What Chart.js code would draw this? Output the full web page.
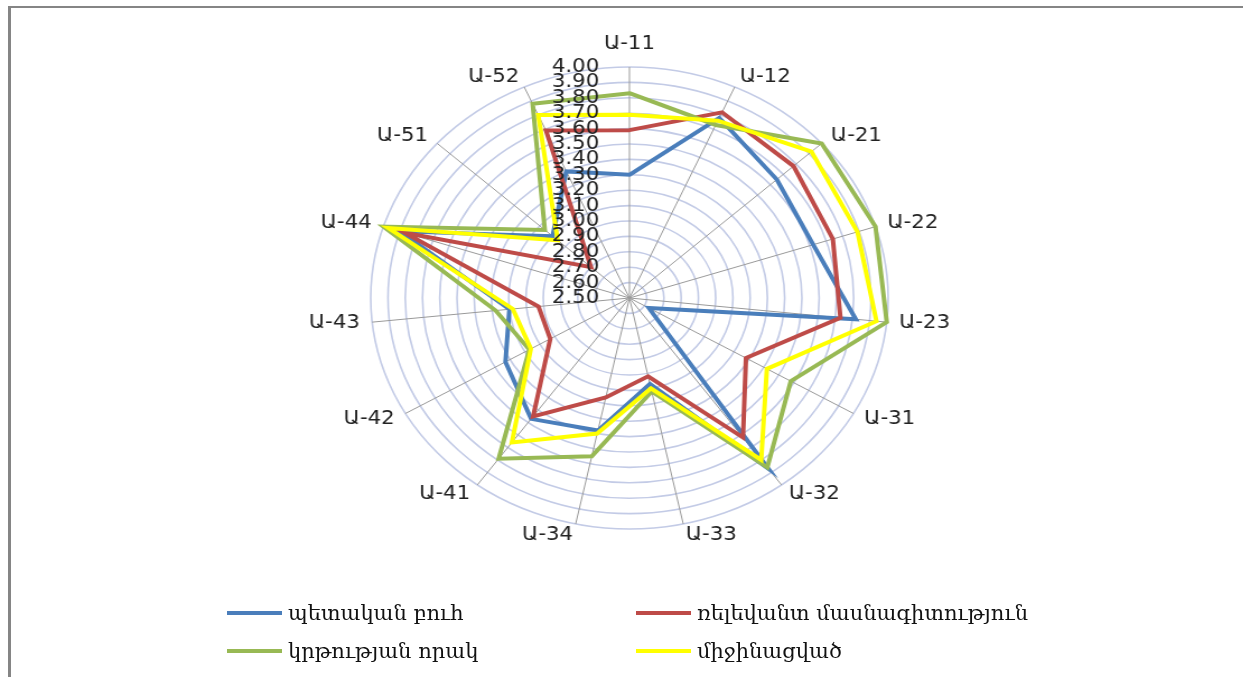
<!DOCTYPE html>
<html><head><meta charset="utf-8">
<script src="https://cdn.jsdelivr.net/npm/chart.js@4"></script>
<style>
html,body{margin:0;padding:0;background:#fff;width:1243px;height:677px;overflow:hidden;}
#frame{position:absolute;left:8px;top:6px;width:1240px;height:680px;border-top:2px solid #858585;border-left:3px solid #858585;}
#stretch{position:absolute;left:0;top:0;width:1110px;height:677px;transform:scaleX(1.12);transform-origin:0 0;}
#legend{position:absolute;left:0;top:0;width:1243px;height:677px;}
.li{position:absolute;display:flex;align-items:center;font-family:"DejaVu Serif";font-size:21px;color:#111;white-space:nowrap;transform:translateY(-50%);}
.sw{width:55px;height:4px;margin-right:6px;}
</style></head><body>
<div id="frame"></div>
<div id="stretch"><canvas id="c" width="1110" height="677"></canvas></div>
<div id="legend"></div>
<script>
const categories = ['Ա-11','Ա-12','Ա-21','Ա-22','Ա-23','Ա-31','Ա-32','Ա-33','Ա-34','Ա-41','Ա-42','Ա-43','Ա-44','Ա-51','Ա-52'];
const seriesNames = ['պետական բուհ','ռելեվանտ մասնագիտություն','կրթության որակ','միջինացված'];
const stateUni   = [3.30,3.78,3.65,3.62,3.82,2.63,3.87,3.07,3.38,3.47,3.33,3.20,3.90,3.10,3.40];
const relevSpec  = [3.59,3.82,3.78,3.74,3.73,3.28,3.62,3.02,3.16,3.45,3.03,3.03,3.87,2.80,3.69];
const eduQuality = [3.83,3.73,4.00,4.00,4.00,3.58,3.86,3.12,3.55,3.79,3.17,3.28,4.00,3.16,3.88];
const averaged   = [3.69,3.76,3.92,3.89,3.94,3.42,3.80,3.10,3.40,3.66,3.16,3.18,3.97,3.06,3.80];
const scaleMin = 2.5, scaleMax = 4.0, scaleStep = 0.1;

const colors = ['#4A7EBB','#BE4B48','#98B954','#FFFF00'];
const allSeries = [stateUni, relevSpec, eduQuality, averaged];

// Tick labels (left of the vertical axis, on top of the lines) and Excel-style point labels
const labelPlugin = {
  id: 'excelLabels',
  afterDatasetsDraw(chart) {
    const s = chart.scales.r, ctx = chart.ctx;
    ctx.save();
    ctx.font = '19px "DejaVu Sans"';
    ctx.fillStyle = '#222';
    ctx.textAlign = 'right';
    ctx.textBaseline = 'middle';
    s.ticks.forEach(t => {
      const y = s.yCenter - s.getDistanceFromCenterForValue(t.value);
      ctx.fillText(t.value.toFixed(2), s.xCenter - 27, y);
    });
    const n = chart.data.labels.length;
    chart.data.labels.forEach((lab, i) => {
      const p = s.getPointPosition(i, s.drawingArea + 11);
      const deg = Math.round(360 * i / n) % 360;
      let y = p.y;
      if (deg === 0) { ctx.textAlign = 'center'; y = p.y - 12; }
      else if (deg === 180) { ctx.textAlign = 'center'; y = p.y + 12; }
      else if (deg < 180) ctx.textAlign = 'left';
      else ctx.textAlign = 'right';
      ctx.fillText(lab, p.x, y);
    });
    ctx.restore();
  }
};

const chart = new Chart(document.getElementById('c'), {
  type: 'radar',
  data: {
    labels: categories,
    datasets: allSeries.map((d, i) => ({
      label: seriesNames[i],
      data: d,
      borderColor: colors[i],
      backgroundColor: colors[i],
      borderWidth: 4,
      fill: false,
      pointRadius: 0,
      pointHoverRadius: 0,
      tension: 0,
      order: 3 - i
    }))
  },
  options: {
    responsive: false,
    animation: false,
    devicePixelRatio: 1,
    layout: { padding: { top: 67, bottom: 148, left: 262, right: 248 } },
    plugins: { legend: { display: false }, tooltip: { enabled: false } },
    scales: {
      r: {
        min: scaleMin, max: scaleMax,
        ticks: { stepSize: scaleStep, display: false },
        grid: { circular: true, color: '#C3CBE6', lineWidth: 1.6 },
        angleLines: { color: '#999999', lineWidth: 1 },
        pointLabels: { display: false }
      }
    }
  },
  plugins: [labelPlugin]
});

const legendPos = [[227,613],[636,613],[227,651],[636,651]];
const lg = document.getElementById('legend');
seriesNames.forEach((n, i) => {
  const d = document.createElement('div');
  d.className = 'li';
  d.style.left = legendPos[i][0] + 'px';
  d.style.top = legendPos[i][1] + 'px';
  d.innerHTML = '<span class="sw" style="background:' + colors[i] + '"></span><span>' + n + '</span>';
  lg.appendChild(d);
});
</script>
</body></html>
